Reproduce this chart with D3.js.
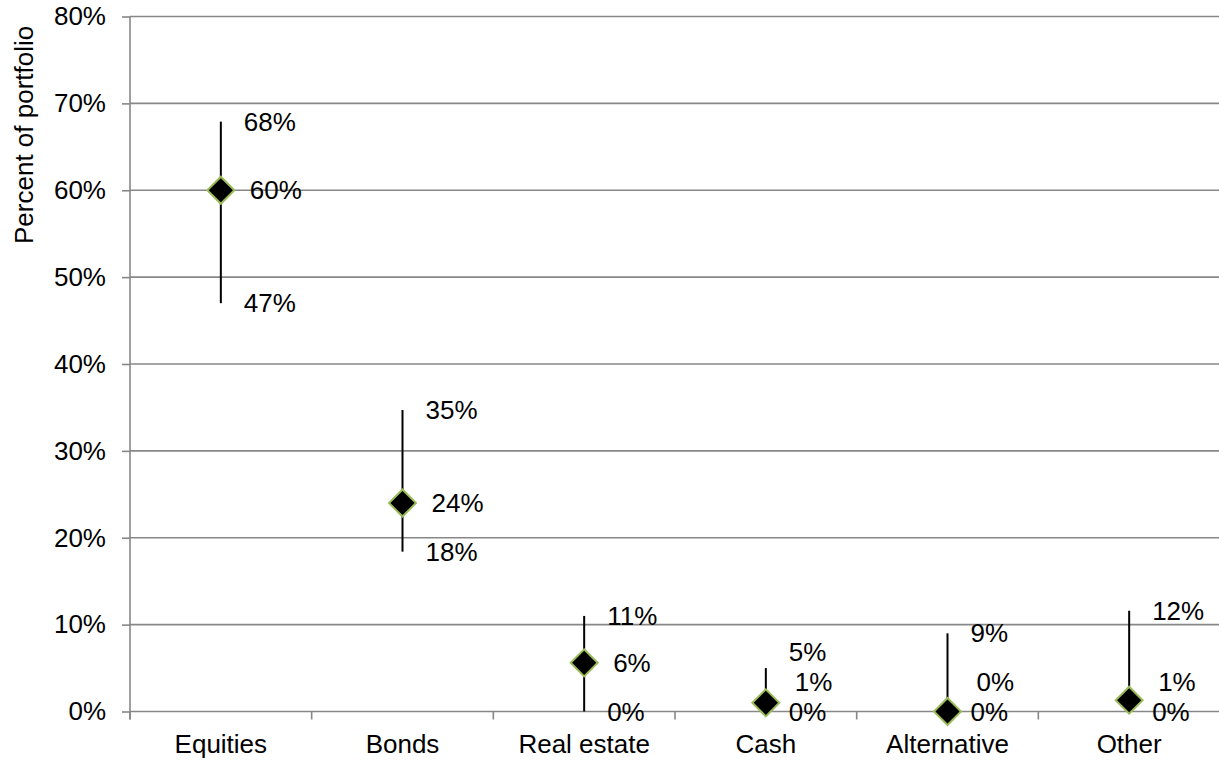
<!DOCTYPE html>
<html>
<head>
<meta charset="utf-8">
<script src="https://cdn.jsdelivr.net/npm/d3@7"></script>
<style>
  html, body { margin: 0; padding: 0; background: #fff; }
  svg { display: block; }
  text { font-family: "Liberation Sans", Arial, sans-serif; fill: #000; }
</style>
</head>
<body>
<svg id="chart" width="1219" height="761"></svg>
<script>
// ---- data ----
const categories = ["Equities", "Bonds", "Real estate", "Cash", "Alternative", "Other"];
const highValues = [67.9, 34.7, 11.0, 5.0, 9.0, 11.6];
const midValues  = [60.0, 24.0, 5.6, 1.0, 0.0, 1.3];
const lowValues  = [47.0, 18.4, 0.0, 0.0, 0.0, 0.0];
const yTicks = [0, 10, 20, 30, 40, 50, 60, 70, 80];
const yTitle = "Percent of portfolio";

// ---- layout ----
const W = 1219, H = 761;
const mLeft = 130, mRight = 1220, mTop = 16.5, mBottom = 711.5;
const fontSize = 26;
const svg = d3.select("#chart");

const x = d3.scaleBand().domain(categories).range([mLeft, mRight]).padding(0);
const y = d3.scaleLinear().domain([0, 80]).range([mBottom, mTop]);
const pct = v => d3.format(".0%")(v / 100);
const cx = c => x(c) + x.bandwidth() / 2;

// gridlines
svg.append("g").selectAll("line").data(yTicks).join("line")
  .attr("x1", mLeft).attr("x2", W)
  .attr("y1", d => y(d)).attr("y2", d => y(d))
  .attr("stroke", "#878787").attr("stroke-width", 1.6);

// y axis
const yAxis = d3.axisLeft(y).tickValues(yTicks).tickFormat(d => d + "%")
  .tickSizeInner(8).tickSizeOuter(0).tickPadding(16);
const gy = svg.append("g").attr("transform", `translate(${mLeft},0)`).call(yAxis);
gy.select(".domain").remove();
gy.selectAll(".tick line").attr("stroke", "#878787").attr("stroke-width", 1.6);
gy.selectAll(".tick text").style("font-size", fontSize + "px")
  .style("font-family", '"Liberation Sans", Arial, sans-serif').attr("fill", "#000");

// y axis vertical line
svg.append("line").attr("x1", mLeft).attr("x2", mLeft)
  .attr("y1", mTop).attr("y2", mBottom + 8)
  .attr("stroke", "#878787").attr("stroke-width", 1.6);

// x axis tick marks at band boundaries
const bounds = categories.map(c => x(c)).concat([x(categories[categories.length - 1]) + x.bandwidth()]);
svg.append("g").selectAll("line").data(bounds).join("line")
  .attr("x1", d => d).attr("x2", d => d)
  .attr("y1", mBottom).attr("y2", mBottom + 8)
  .attr("stroke", "#878787").attr("stroke-width", 1.6);

// x axis labels
const xAxis = d3.axisBottom(x).tickSize(0).tickPadding(23);
const gx = svg.append("g").attr("transform", `translate(0,${mBottom})`).call(xAxis);
gx.select(".domain").remove();
gx.selectAll(".tick text").style("font-size", fontSize + "px")
  .style("font-family", '"Liberation Sans", Arial, sans-serif').attr("fill", "#000");

// y title
svg.append("text")
  .attr("transform", `translate(33,244) rotate(-90)`)
  .attr("text-anchor", "start")
  .style("font-size", fontSize + "px")
  .text(yTitle);

// data rows
const rows = categories.map((c, i) => ({ c, hi: highValues[i], mid: midValues[i], lo: lowValues[i] }));

// high-low lines
svg.append("g").selectAll("line").data(rows).join("line")
  .attr("x1", d => cx(d.c)).attr("x2", d => cx(d.c))
  .attr("y1", d => y(d.hi)).attr("y2", d => y(d.lo))
  .attr("stroke", "#000").attr("stroke-width", 2);

// diamonds
const diamond = d3.symbol().type(d3.symbolSquare).size(364);
svg.append("g").selectAll("path").data(rows).join("path")
  .attr("d", diamond)
  .attr("transform", d => `translate(${cx(d.c)},${y(d.mid)}) rotate(45)`)
  .attr("fill", "#000").attr("stroke", "#9BBB59").attr("stroke-width", 2);

// labels with simple collision avoidance
const gap = 30;
rows.forEach(d => {
  d.loY = y(d.lo);
  d.midY = Math.min(y(d.mid), d.loY - gap);
  d.hiY = Math.min(y(d.hi), d.midY - gap);
});
const lab = svg.append("g").style("font-size", fontSize + "px");
lab.selectAll(".hi").data(rows).join("text").attr("class", "hi")
  .attr("x", d => cx(d.c) + 23).attr("y", d => d.hiY).attr("dy", "0.35em")
  .text(d => pct(d.hi));
lab.selectAll(".mid").data(rows).join("text").attr("class", "mid")
  .attr("x", d => cx(d.c) + 29).attr("y", d => d.midY).attr("dy", "0.35em")
  .text(d => pct(d.mid));
lab.selectAll(".lo").data(rows).join("text").attr("class", "lo")
  .attr("x", d => cx(d.c) + 23).attr("y", d => d.loY).attr("dy", "0.35em")
  .text(d => pct(d.lo));
</script>
</body>
</html>
